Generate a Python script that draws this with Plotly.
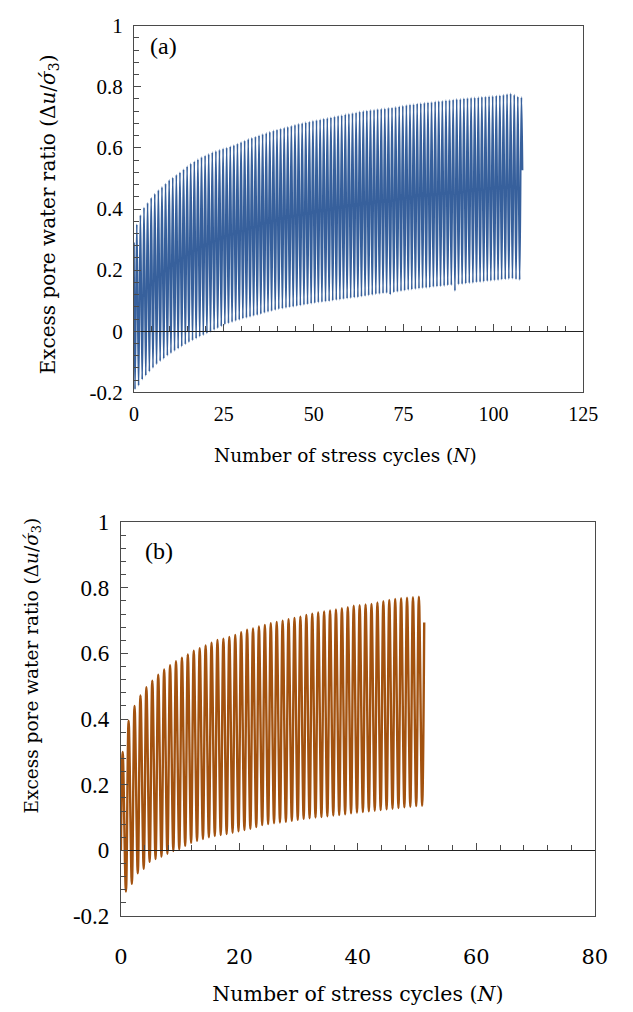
import plotly.graph_objects as go

# ---------------- data: cyclic excess pore water ratio ----------------
# Panel (a): peak / trough of each loading cycle (cycles 0..107)
a_start = 0.29
a_end = 0.527
a_end_N = 108.1
a_peaks = [
    0.350, 0.380, 0.405, 0.420, 0.437, 0.450, 0.462, 0.472, 0.483, 0.495,
    0.503, 0.512, 0.520, 0.530, 0.540, 0.549, 0.556, 0.563, 0.570, 0.575,
    0.580, 0.586, 0.590, 0.594, 0.598, 0.601, 0.605, 0.609, 0.614, 0.619,
    0.624, 0.629, 0.633, 0.637, 0.641, 0.645, 0.649, 0.653, 0.657, 0.660,
    0.663, 0.666, 0.669, 0.672, 0.676, 0.679, 0.681, 0.684, 0.686, 0.689,
    0.691, 0.693, 0.696, 0.698, 0.700, 0.703, 0.705, 0.707, 0.710, 0.712,
    0.714, 0.716, 0.719, 0.721, 0.722, 0.724, 0.725, 0.727, 0.728, 0.729,
    0.731, 0.732, 0.734, 0.736, 0.738, 0.740, 0.742, 0.743, 0.745, 0.746,
    0.748, 0.749, 0.750, 0.752, 0.753, 0.754, 0.756, 0.757, 0.758, 0.760,
    0.760, 0.762, 0.763, 0.764, 0.765, 0.766, 0.767, 0.768, 0.769, 0.770,
    0.771, 0.772, 0.774, 0.776, 0.778, 0.774, 0.768, 0.766,
]
a_troughs = [
    -0.190, -0.178, -0.158, -0.145, -0.132, -0.120, -0.108, -0.098, -0.090, -0.080,
    -0.072, -0.064, -0.057, -0.050, -0.043, -0.036, -0.030, -0.024, -0.018, -0.013,
    -0.007, -0.002, 0.004, 0.010, 0.016, 0.022, 0.026, 0.030, 0.034, 0.037,
    0.041, 0.044, 0.047, 0.050, 0.053, 0.056, 0.060, 0.063, 0.066, 0.069,
    0.072, 0.074, 0.076, 0.078, 0.080, 0.082, 0.084, 0.086, 0.088, 0.090,
    0.092, 0.094, 0.095, 0.097, 0.098, 0.100, 0.102, 0.103, 0.105, 0.107,
    0.108, 0.110, 0.111, 0.113, 0.115, 0.117, 0.119, 0.121, 0.122, 0.124,
    0.125, 0.120, 0.127, 0.129, 0.131, 0.133, 0.135, 0.136, 0.138, 0.139,
    0.141, 0.142, 0.143, 0.145, 0.146, 0.147, 0.148, 0.150, 0.151, 0.132,
    0.153, 0.154, 0.156, 0.157, 0.158, 0.160, 0.161, 0.162, 0.164, 0.165,
    0.166, 0.167, 0.169, 0.170, 0.171, 0.172, 0.170, 0.168,
]

# Panel (b): peak / trough of each loading cycle (cycles 0..50)
b_start = 0.0
b_end = 0.694
b_end_N = 51.2
b_peaks = [
    0.300, 0.395, 0.440, 0.472, 0.497, 0.517, 0.535, 0.551, 0.564, 0.576,
    0.587, 0.597, 0.608, 0.616, 0.624, 0.633, 0.641, 0.645, 0.650, 0.656,
    0.665, 0.672, 0.676, 0.682, 0.687, 0.692, 0.696, 0.700, 0.704, 0.708,
    0.712, 0.717, 0.721, 0.725, 0.728, 0.731, 0.734, 0.738, 0.741, 0.745,
    0.747, 0.749, 0.751, 0.755, 0.759, 0.763, 0.766, 0.768, 0.770, 0.771,
    0.773,
]
b_troughs = [
    -0.125, -0.102, -0.070, -0.056, -0.035, -0.026, -0.019, -0.010, -0.002, 0.003,
    0.014, 0.023, 0.029, 0.035, 0.040, 0.044, 0.047, 0.050, 0.054, 0.058,
    0.062, 0.066, 0.071, 0.077, 0.080, 0.083, 0.085, 0.087, 0.090, 0.093,
    0.096, 0.098, 0.100, 0.102, 0.104, 0.106, 0.108, 0.110, 0.113, 0.115,
    0.117, 0.119, 0.121, 0.123, 0.125, 0.127, 0.129, 0.131, 0.133, 0.135,
    0.136,
]

# axis ticks
a_xticks = [0, 25, 50, 75, 100, 125]
b_xticks = [0, 20, 40, 60, 80]
y_ticks = [-0.2, 0, 0.2, 0.4, 0.6, 0.8, 1]
y_labels = ["-0.2", "0", "0.2", "0.4", "0.6", "0.8", "1"]


def cycle_series(start, peaks, troughs, end, end_n, peak_phase, trough_phase):
    """Interleave the extremes of each cycle into one time series."""
    pts = [(0.0, start)]
    for k in range(len(peaks)):
        pts.append((k + peak_phase, peaks[k]))
        pts.append((k + trough_phase, troughs[k]))
    pts.sort(key=lambda p: p[0])
    pts.append((end_n, end))
    return [p[0] for p in pts], [p[1] for p in pts]


xa, ya = cycle_series(a_start, a_peaks, a_troughs, a_end, a_end_N, 0.8, 0.3)
xb, yb = cycle_series(b_start, b_peaks, b_troughs, b_end, b_end_N, 0.3, 0.85)

W, H = 633, 1012
BLUE = "#37609c"
BROWN = "#a3520f"
AX = "#4a4a4a"
SERIF = "Liberation Serif"
TITLE_FONT = "DejaVu Serif"

# panel boxes (pixels)
ax_a = dict(l=131.5, r=597, t=14, b=390)
ax_b = dict(l=118, r=609, t=523, b=927)


def dom_x(p):
    return [p["l"] / W, p["r"] / W]


def dom_y(p):
    return [1 - p["b"] / H, 1 - p["t"] / H]


def zero_pos(p, lo=-0.2, hi=1.0):
    d = dom_y(p)
    return d[0] + (0 - lo) / (hi - lo) * (d[1] - d[0])


fig = go.Figure()
fig.add_trace(go.Scatter(x=xa, y=ya, mode="lines", xaxis="x", yaxis="y",
                         line=dict(color=BLUE, width=1.8, shape="spline"),
                         showlegend=False, hoverinfo="skip"))
fig.add_trace(go.Scatter(x=xb, y=yb, mode="lines", xaxis="x2", yaxis="y2",
                         line=dict(color=BROWN, width=2.4, shape="spline"),
                         showlegend=False, hoverinfo="skip"))
# empty traces so that the zero-line axes are drawn
fig.add_trace(go.Scatter(x=[], y=[], xaxis="x3", yaxis="y",
                         showlegend=False, hoverinfo="skip"))
fig.add_trace(go.Scatter(x=[], y=[], xaxis="x4", yaxis="y2",
                         showlegend=False, hoverinfo="skip"))

ytitle = "Excess pore water ratio (Δ<i>u</i>/<i>σ́</i><sub>3</sub>)"
xtitle = "Number of stress cycles (<i>N</i>)"


def y_axis(p, anchor, size, standoff):
    return dict(domain=dom_y(p), anchor=anchor, range=[-0.2, 1.0],
                tickvals=y_ticks, ticktext=y_labels, ticks="inside",
                ticklen=7, tickwidth=1, tickcolor=AX,
                minor=dict(ticks="inside", dtick=0.04, ticklen=5,
                           tickwidth=1, tickcolor=AX),
                showline=True, mirror=True, linecolor=AX, linewidth=1,
                showgrid=False, zeroline=False, ticklabelstandoff=standoff,
                tickfont=dict(family=SERIF, size=size, color="black"),
                fixedrange=True)


def x_axis(p, anchor, rng, ticks, font, size, standoff, title=None):
    ax = dict(domain=dom_x(p), anchor=anchor, range=rng, tickvals=ticks,
              ticks="", showline=True, mirror=True, linecolor=AX,
              linewidth=1, showgrid=False, zeroline=False,
              ticklabelstandoff=standoff,
              tickfont=dict(family=font, size=size, color="black"),
              fixedrange=True)
    if title:
        ax["title"] = title
    return ax


def zero_axis(p, over, rng, major, minor):
    return dict(domain=dom_x(p), overlaying=over, anchor="free",
                position=zero_pos(p), range=rng, tickvals=major,
                ticks="inside", ticklen=7, tickwidth=1, tickcolor=AX,
                minor=dict(ticks="inside", dtick=minor, ticklen=5,
                           tickwidth=1, tickcolor=AX),
                showticklabels=False, showline=True, linecolor="#222222",
                linewidth=1.2, showgrid=False, zeroline=False,
                fixedrange=True)


fig.update_layout(
    width=W, height=H, margin=dict(l=0, r=0, t=0, b=0),
    paper_bgcolor="white", plot_bgcolor="white",
    xaxis=x_axis(ax_a, "y", [0, 125], a_xticks, SERIF, 20, 4),
    yaxis=y_axis(ax_a, "x", 21, 6),
    xaxis2=x_axis(ax_b, "y2", [0, 80], b_xticks, TITLE_FONT, 21, 22,
                  title=dict(text=xtitle, standoff=18,
                             font=dict(family=TITLE_FONT, size=20.5,
                                       color="black"))),
    yaxis2=y_axis(ax_b, "x2", 23, 6),
    xaxis3=zero_axis(ax_a, "x", [0, 125], a_xticks, 5),
    xaxis4=zero_axis(ax_b, "x2", [0, 80], b_xticks, 4),
)

notes = [
    dict(text="(a)", x=162 / W, y=1 - 35 / H, size=24, family=SERIF, angle=0),
    dict(text="(b)", x=157 / W, y=1 - 553 / H, size=24, family=SERIF, angle=0),
    dict(text=xtitle, x=351 / W, y=1 - 455 / H, size=18.5, family=TITLE_FONT, angle=0),
    dict(text=ytitle, x=43 / W, y=1 - 208 / H, size=20, family=TITLE_FONT, angle=-90),
    dict(text=ytitle, x=27 / W, y=1 - 670 / H, size=18.5, family=TITLE_FONT, angle=-90),
]
for n in notes:
    fig.add_annotation(text=n["text"], x=n["x"], y=n["y"], xref="paper",
                       yref="paper", showarrow=False, xanchor="center",
                       yanchor="middle", textangle=n["angle"],
                       font=dict(family=n["family"], size=n["size"],
                                 color="black"))

fig.write_html("out.html")
